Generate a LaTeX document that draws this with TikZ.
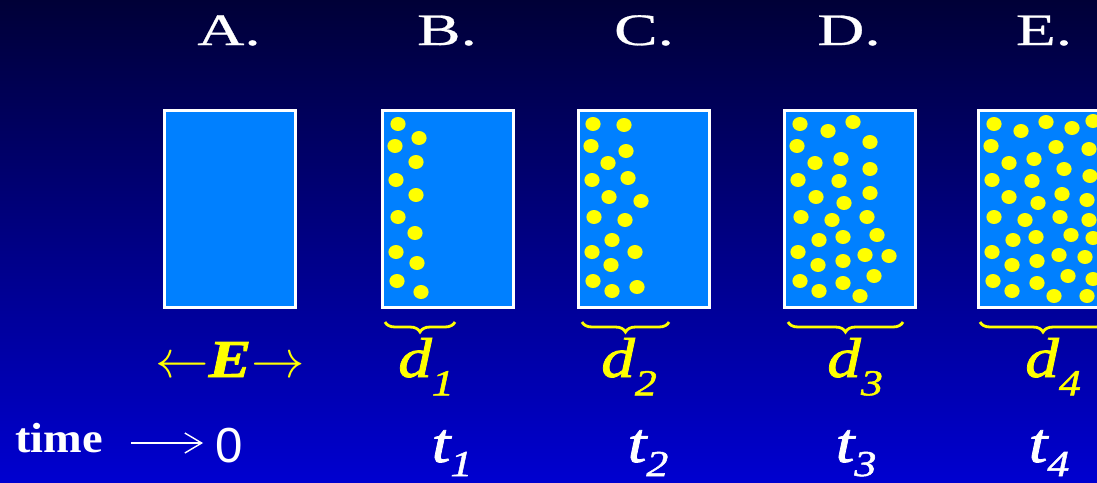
\documentclass[tikz,border=0pt]{standalone}
\usepackage{fix-cm}
\usepackage{fontspec}
\setmainfont{Liberation Serif}
\newfontfamily\arialfont{Liberation Sans}
\newfontfamily\widefont[FakeStretch=1.45, FakeBold=0.6]{Liberation Serif}
\newfontfamily\labelfont[FakeStretch=1.2, FakeBold=1.4]{Liberation Serif}
\newfontfamily\timefont[FakeStretch=1.1]{Liberation Serif}
\usepackage{tikz}
\usetikzlibrary{arrows.meta, positioning, decorations.pathreplacing, calc}
\definecolor{skytop}{RGB}{0, 0, 55}
\definecolor{skybottom}{RGB}{0, 0, 208}
\definecolor{cellblue}{RGB}{0, 128, 255}
\definecolor{grainyellow}{RGB}{255, 255, 0}
\newcommand{\lowsub}[2]{\raisebox{#1}{\fontsize{26}{26}\selectfont #2}}

\begin{document}
\begin{tikzpicture}[x=0.025cm, y=-0.025cm,
    cell/.style={draw=white, line width=2.2pt, fill=cellblue, minimum width=3.275cm,
                 minimum height=4.925cm, inner sep=0pt},
    grain/.style={fill=grainyellow},
    letter/.style={text=white, anchor=base, inner sep=0pt, font=\widefont\fontsize{32}{32}\selectfont},
    dlabel/.style={text=grainyellow, anchor=base, inner sep=0pt,
                   font=\labelfont\fontsize{40}{40}\selectfont\itshape},
    tlabel/.style={text=white, anchor=base, inner sep=0pt,
                   font=\labelfont\fontsize{40}{40}\selectfont\itshape},
    spanbrace/.style={decorate, decoration={brace, mirror, amplitude=0.25cm}, draw=grainyellow, line width=2pt},
    timearrow/.style={-{Straight Barb[length=0.42cm, width=0.5cm]}, draw=white, line width=1pt}
]
    \useasboundingbox (0,0) rectangle (1097,482);
    \clip (0,0) rectangle (1097,482);
    \shade[top color=skytop, bottom color=skybottom] (0,0) rectangle (1097,482);

    % Stages
    \node[cell] (boxA) at (230,209) {};
    \node[cell] (boxB) at (448,209) {};
    \node[cell] (boxC) at (644,209) {};
    \node[cell] (boxD) at (850,209) {};
    \node[cell] (boxE) at (1044,209) {};

    \node[letter] (labA) at (229,45) {A.};
    \node[letter] (labB) at (447,45) {B.};
    \node[letter] (labC) at (644,45) {C.};
    \node[letter] (labD) at (849,45) {D.};
    \node[letter] (labE) at (1044,45) {E.};

    % Grains
    \foreach \x/\y in {398/124, 419/138, 395/146, 416/162, 396/180, 416/195,
                       398/217, 415/233, 396/252, 417/263, 397/281, 421/292}
        \fill[grain] (\x,\y) ellipse [x radius=0.19cm, y radius=0.175cm];
    \foreach \x/\y in {593/124, 624/125, 591/146, 626/151, 608/163, 592/180,
                       628/178, 609/197, 641/201, 594/217, 625/220, 612/240,
                       592/252, 635/252, 611/265, 593/281, 612/291, 637/287}
        \fill[grain] (\x,\y) ellipse [x radius=0.19cm, y radius=0.175cm];
    \foreach \x/\y in {800/124, 828/131, 853/122, 797/146, 870/142, 815/163,
                       841/159, 870/169, 798/180, 839/181, 816/197, 844/203,
                       870/193, 801/217, 832/220, 867/217, 819/240, 843/237,
                       877/235, 798/252, 818/265, 843/261, 865/255, 889/256,
                       800/281, 819/291, 843/283, 874/276, 860/296}
        \fill[grain] (\x,\y) ellipse [x radius=0.19cm, y radius=0.175cm];
    \foreach \x/\y in {994/124, 1021/131, 1046/122, 1072/128, 1093/121, 991/146,
                       1056/147, 1089/149, 1009/163, 1034/159, 1064/169, 1090/176,
                       992/180, 1032/181, 1009/197, 1038/203, 1062/194, 1087/200,
                       994/217, 1025/220, 1060/217, 1089/220, 1013/240, 1036/237,
                       1071/235, 1093/238, 992/252, 1012/265, 1037/261, 1059/255,
                       1085/257, 993/281, 1012/291, 1037/283, 1068/276, 1054/296,
                       1087/296, 1093/279}
        \fill[grain] (\x,\y) ellipse [x radius=0.19cm, y radius=0.175cm];

    % Spread
    \draw[spanbrace] (385,322) -- (455,322);
    \draw[spanbrace] (582,322) -- (669,322);
    \draw[spanbrace] (788,322) -- (903,322);
    \draw[spanbrace] (980,322) -- (1106,322);

    \node[dlabel, font=\labelfont\fontsize{38}{38}\selectfont\bfseries\itshape] (field) at (230,377)
        {$\leftarrow$E$\rightarrow$};
    \node[dlabel] (dB) at (426,377) {d\lowsub{-13pt}{1}};
    \node[dlabel] (dC) at (629,377) {d\lowsub{-13pt}{2}};
    \node[dlabel] (dD) at (855,377) {d\lowsub{-13pt}{3}};
    \node[dlabel] (dE) at (1053,377) {d\lowsub{-13pt}{4}};

    % Time
    \node[text=white, anchor=base west, inner sep=0pt, font=\timefont\fontsize{30}{30}\selectfont\bfseries]
        (time) at (15,452) {time};
    \node[text=white, anchor=base, inner sep=0pt, font=\fontsize{35}{35}\selectfont\arialfont]
        (zero) at (229,462) {0};
    \coordinate (arrowlevel) at (0,443);
    \draw[timearrow, shorten <=0.7cm, shorten >=0.3cm] (time.east |- arrowlevel) -- (zero.west |- arrowlevel);

    \node[tlabel] (tB) at (452,462) {t\lowsub{-10pt}{1}};
    \node[tlabel] (tC) at (648,462) {t\lowsub{-10pt}{2}};
    \node[tlabel] (tD) at (856,462) {t\lowsub{-10pt}{3}};
    \node[tlabel] (tE) at (1049,462) {t\lowsub{-10pt}{4}};
\end{tikzpicture}
\end{document}
